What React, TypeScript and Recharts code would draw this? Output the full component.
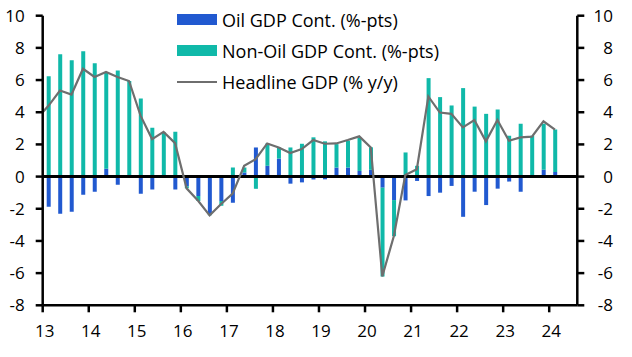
import React from "react";
import { ComposedChart, Bar, Line, XAxis, YAxis, ReferenceLine } from "recharts";

// quarters 2012Q4 (only the line, clipped at the left edge) to 2024Q1
const quarters = [
  "12Q4",
  "13Q1", "13Q2", "13Q3", "13Q4", "14Q1", "14Q2", "14Q3", "14Q4",
  "15Q1", "15Q2", "15Q3", "15Q4", "16Q1", "16Q2", "16Q3", "16Q4",
  "17Q1", "17Q2", "17Q3", "17Q4", "18Q1", "18Q2", "18Q3", "18Q4",
  "19Q1", "19Q2", "19Q3", "19Q4", "20Q1", "20Q2", "20Q3", "20Q4",
  "21Q1", "21Q2", "21Q3", "21Q4", "22Q1", "22Q2", "22Q3", "22Q4",
  "23Q1", "23Q2", "23Q3", "23Q4", "24Q1",
];

const oilCont = [
  null,
  -1.87, -2.31, -2.19, -1.13, -0.94, 0.48, -0.5, 0,
  -1.06, -0.81, 0, -0.81, -0.6, -1.2, -2.35, -1.52,
  -1.63, 0.25, 1.81, 0.67, 1.12, -0.44, -0.36, -0.18,
  -0.17, 0.56, 0.56, 0.35, 0.42, -0.69, -1.46, -1.48,
  -0.27, -1.21, -1.0, -0.58, -2.5, -0.94, -1.77, -0.75,
  -0.31, -0.94, 0, 0.42, 0.29,
];

const nonOilCont = [
  null,
  6.23, 7.6, 7.23, 7.79, 7.04, 6.02, 6.6, 5.94,
  4.85, 3.04, 2.75, 2.79, -0.13, -0.32, -0.05, -0.3,
  0.56, 0.31, -0.76, 1.39, 0.69, 1.81, 2.04, 2.44,
  2.19, 1.46, 1.67, 2.08, 1.4, -5.52, -2.25, 1.5,
  0.67, 6.12, 4.94, 4.42, 5.5, 4.35, 3.9, 4.17,
  2.54, 3.29, 2.54, 2.87, 2.63,
];

const headlineGdp = [
  3.6,
  4.4, 5.35, 5.1, 6.7, 6.19, 6.5, 6.19, 5.94,
  3.79, 2.33, 2.78, 2.08, -0.73, -1.5, -2.41, -1.7,
  -1.06, 0.67, 1.08, 2.06, 1.81, 1.46, 1.71, 2.27,
  2.04, 2.06, 2.27, 2.5, 1.81, -6.2, -3.71, 0.1,
  0.46, 4.98, 3.98, 3.9, 3.06, 3.52, 2.19, 3.52,
  2.23, 2.44, 2.48, 3.44, 2.92,
];

const yearLabels = ["13", "14", "15", "16", "17", "18", "19", "20", "21", "22", "23", "24"];
const yTicks = [-8, -6, -4, -2, 0, 2, 4, 6, 8, 10];

const OIL = "#2159d0";
const NON_OIL = "#10b9a9";
const HEADLINE = "#6e6e6e";
const FONT = "'Open Sans', sans-serif";

// x = quarter position, bars sit in the middle of their quarter
const data = quarters.map((q, i) => ({
  q,
  x: i - 0.5,
  oil: oilCont[i],
  nonOil: nonOilCont[i],
  headline: headlineGdp[i],
}));

const xTicks = yearLabels.map((_, i) => i * 4);

const RightTick = (props: any) => {
  const { x, y, payload } = props;
  return (
    <text x={x} y={y} dy="0.355em" textAnchor="end" fontSize={17} fontFamily={FONT} fill="#000">
      {payload.value}
    </text>
  );
};

const legendItems = [
  { label: "Oil GDP Cont. (%-pts)", color: OIL, kind: "bar" },
  { label: "Non-Oil GDP Cont. (%-pts)", color: NON_OIL, kind: "bar" },
  { label: "Headline GDP (% y/y)", color: HEADLINE, kind: "line" },
];

export default function App() {
  return (
    <div
      style={{
        position: "absolute",
        left: 0,
        top: 0,
        width: 632,
        height: 357,
        background: "#fff",
        fontFamily: FONT,
      }}
    >
      <ComposedChart
        width={632}
        height={357}
        data={data}
        stackOffset="sign"
        margin={{ top: 15.7, right: 0, bottom: 21.7, left: 0 }}
      >
        <XAxis
          type="number"
          dataKey="x"
          domain={[0, 46.44]}
          allowDataOverflow
          ticks={xTicks}
          tickFormatter={(v: number) => yearLabels[v / 4]}
          height={30}
          axisLine={{ stroke: "#000", strokeWidth: 2.5 }}
          tickLine={{ stroke: "#000", strokeWidth: 2.5 }}
          tickSize={7}
          tickMargin={13}
          tick={{ fill: "#000", fontSize: 17, fontFamily: FONT, dx: 2 }}
        />
        <YAxis
          yAxisId="left"
          domain={[-8, 10]}
          ticks={yTicks}
          interval={0}
          width={42.7}
          axisLine={{ stroke: "#000", strokeWidth: 2.5 }}
          tickLine={{ stroke: "#000", strokeWidth: 2.5 }}
          tickSize={7}
          tickMargin={11}
          tick={{ fill: "#000", fontSize: 17, fontFamily: FONT }}
        />
        <YAxis
          yAxisId="right"
          orientation="right"
          domain={[-8, 10]}
          ticks={yTicks}
          interval={0}
          width={54.7}
          axisLine={{ stroke: "#000", strokeWidth: 2.5 }}
          tickLine={{ stroke: "#000", strokeWidth: 2.5 }}
          tickSize={7}
          tickMargin={28.7}
          tick={<RightTick />}
        />
        <Bar
          yAxisId="left"
          dataKey="oil"
          stackId="gdp"
          fill={OIL}
          barSize={4}
          isAnimationActive={false}
        />
        <Bar
          yAxisId="left"
          dataKey="nonOil"
          stackId="gdp"
          fill={NON_OIL}
          barSize={4}
          isAnimationActive={false}
        />
        <ReferenceLine yAxisId="left" y={0} stroke="#000" strokeWidth={3} />
        <Line
          yAxisId="right"
          dataKey="headline"
          type="linear"
          stroke={HEADLINE}
          strokeWidth={2.2}
          dot={false}
          activeDot={false}
          isAnimationActive={false}
        />
      </ComposedChart>

      <div style={{ position: "absolute", left: 177, top: 4 }}>
        {legendItems.map((item) => (
          <div
            key={item.label}
            style={{ display: "flex", alignItems: "center", height: 31.2, fontSize: 18, color: "#000" }}
          >
            {item.kind === "bar" ? (
              <span style={{ width: 40, height: 10.7, background: item.color, display: "inline-block" }} />
            ) : (
              <span style={{ width: 40, height: 2.2, background: item.color, display: "inline-block" }} />
            )}
            <span style={{ marginLeft: 5, whiteSpace: "nowrap" }}>{item.label}</span>
          </div>
        ))}
      </div>
    </div>
  );
}
